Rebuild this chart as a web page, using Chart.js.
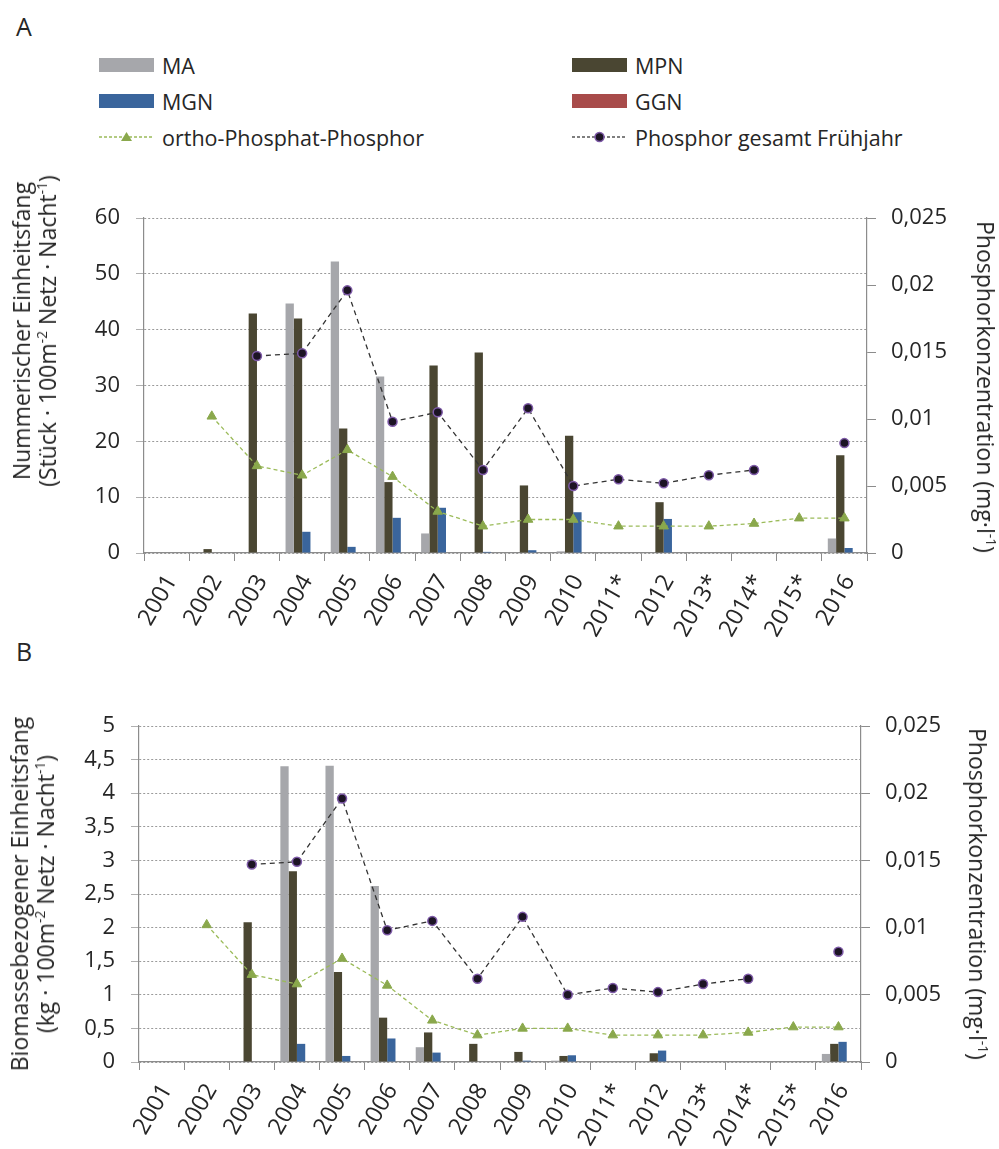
<!DOCTYPE html>
<html lang="de">
<head>
<meta charset="utf-8">
<title>Einheitsfang und Phosphorkonzentration</title>
<script src="https://cdn.jsdelivr.net/npm/chart.js@4.4.1/dist/chart.umd.min.js"></script>
<style>
  body { margin: 0; width: 999px; height: 1149px; position: relative; background: #fff;
         font-family: 'Open Sans', sans-serif; color: #262626; overflow: hidden; }
  .panel-letter { position: absolute; left: 16px; font-size: 25px; line-height: 25px; }
  .chart-box { position: absolute; left: 0; width: 999px; }
  .legend-item { position: absolute; display: flex; align-items: center; height: 30px; font-size: 21.5px; }
  .legend-item .swatch { width: 55px; height: 14px; margin-right: 8px; }
  .legend-item svg { margin-right: 8px; }
  .axis-title { position: absolute; white-space: nowrap; text-align: center; font-size: 23px; line-height: 26px; }
  .axis-title.left  { transform: translate(-50%, -50%) rotate(-90deg); }
  .axis-title.right { transform: translate(-50%, -50%) rotate(90deg); }
  .axis-title sup { font-size: 0.6em; line-height: 0; }
</style>
</head>
<body>

<div class="panel-letter" style="top:14px">A</div>
<div class="panel-letter" style="top:639px">B</div>

<div id="legend"></div>

<div class="chart-box" style="top:160px;height:480px"><canvas id="chartA" width="999" height="480"></canvas></div>
<div class="chart-box" style="top:670px;height:479px"><canvas id="chartB" width="999" height="479"></canvas></div>

<div class="axis-title left" style="left:34px;top:331px">Nummerischer Einheitsfang<br>(Stück · 100m<sup>-2</sup> Netz · Nacht<sup>-1</sup>)</div>
<div class="axis-title right" style="left:986px;top:387px">Phosphorkonzentration (mg·l<sup>-1</sup>)</div>
<div class="axis-title left" style="left:32px;top:894px">Biomassebezogener Einheitsfang<br>(kg · 100m<sup>-2</sup> Netz · Nacht<sup>-1</sup>)</div>
<div class="axis-title right" style="left:978px;top:894px">Phosphorkonzentration (mg·l<sup>-1</sup>)</div>

<script>
// ===== DATA =====
const years = ['2001', '2002', '2003', '2004', '2005', '2006', '2007', '2008',
               '2009', '2010', '2011*', '2012', '2013*', '2014*', '2015*', '2016'];

// A: Stück pro 100 m² Netz und Nacht
const countMA  = [0, 0, 0, 44.7, 52.2, 31.6, 3.5, 0, 0, 0.3, 0, 0, 0, 0, 0, 2.6];
const countMPN = [0, 0.7, 42.9, 42.0, 22.3, 12.7, 33.6, 35.9, 12.1, 21.0, 0, 9.1, 0, 0, 0, 17.5];
const countMGN = [0, 0, 0, 3.8, 1.1, 6.3, 8.1, 0.2, 0.5, 7.3, 0, 6.1, 0, 0, 0, 0.9];
const countGGN = [0, 0, 0, 0, 0, 0, 0, 0, 0, 0, 0, 0, 0, 0, 0, 0];

// B: kg pro 100 m² Netz und Nacht
const massMA  = [0, 0, 0, 4.40, 4.41, 2.62, 0.22, 0, 0, 0.02, 0, 0, 0, 0, 0, 0.12];
const massMPN = [0, 0, 2.08, 2.84, 1.34, 0.66, 0.44, 0.27, 0.15, 0.09, 0, 0.13, 0, 0, 0, 0.27];
const massMGN = [0, 0, 0, 0.27, 0.09, 0.35, 0.14, 0, 0.02, 0.10, 0, 0.17, 0, 0, 0, 0.30];
const massGGN = [0, 0, 0, 0, 0, 0, 0, 0, 0, 0, 0, 0, 0, 0, 0, 0];

// Phosphor (mg/l), rechte Achse
const orthoP  = [null, 0.0102, 0.0065, 0.0058, 0.0077, 0.0057, 0.0031, 0.0020,
                 0.0025, 0.0025, 0.0020, 0.0020, 0.0020, 0.0022, 0.0026, 0.0026];
const gesamtP = [null, null, 0.0147, 0.0149, 0.0196, 0.0098, 0.0105, 0.0062,
                 0.0108, 0.0050, 0.0055, 0.0052, 0.0058, 0.0062, null, 0.0082];

const COLORS = {
  MA: '#a6a7ab',
  MPN: '#4a4632',
  MGN: '#3a659c',
  GGN: '#a84b4a',
  ortho: '#9bbb59',
  orthoPoint: '#8aa84c',
  gesamt: '#333333',
  gesamtPoint: '#1c1424',
  gesamtRing: '#7e5aa8',
};

// ===== LEGEND =====
const legendItems = [
  { label: 'MA', color: COLORS.MA, x: 99, y: 65 },
  { label: 'MPN', color: COLORS.MPN, x: 572, y: 65 },
  { label: 'MGN', color: COLORS.MGN, x: 99, y: 101 },
  { label: 'GGN', color: COLORS.GGN, x: 572, y: 101 },
  { label: 'ortho-Phosphat-Phosphor', line: 'ortho', x: 99, y: 137 },
  { label: 'Phosphor gesamt Frühjahr', line: 'gesamt', x: 572, y: 137 },
];

function legendSymbol(item) {
  if (!item.line) return `<span class="swatch" style="background:${item.color}"></span>`;
  const marker = item.line === 'ortho'
    ? `<polygon points="27.5,3 33,12 22,12" fill="${COLORS.orthoPoint}"/>`
    : `<circle cx="27.5" cy="8" r="4.5" fill="${COLORS.gesamtPoint}" stroke="${COLORS.gesamtRing}" stroke-width="1.5"/>`;
  const stroke = item.line === 'ortho' ? COLORS.ortho : '#555';
  return `<svg width="55" height="16"><line x1="0" y1="8" x2="55" y2="8" stroke="${stroke}"
            stroke-width="1.3" stroke-dasharray="3,2"/>${marker}</svg>`;
}

document.getElementById('legend').innerHTML = legendItems.map(it =>
  `<div class="legend-item" style="left:${it.x}px;top:${it.y - 15}px">${legendSymbol(it)}${it.label}</div>`
).join('');

// ===== CHARTS =====
Chart.defaults.font.family = "'Open Sans', sans-serif";
Chart.defaults.color = '#262626';

const AXIS_GRAY = '#8c8c8c';
const commaFmt = v => String(Number(v.toFixed(4))).replace('.', ',');

function renderPanel(canvasId, bars, yMax, yStep, box) {
  const barSet = (label, data) => ({
    type: 'bar', label, data, yAxisID: 'y', order: 2,
    backgroundColor: COLORS[label], borderWidth: 0,
    categoryPercentage: 0.735, barPercentage: 1,
  });

  return new Chart(document.getElementById(canvasId), {
    data: {
      labels: years,
      datasets: [
        {
          type: 'line', label: 'Phosphor gesamt Frühjahr', data: gesamtP, yAxisID: 'y1', order: 0,
          borderColor: COLORS.gesamt, borderWidth: 1.3, borderDash: [5, 4], tension: 0,
          pointStyle: 'circle', pointRadius: 4.5, pointBorderWidth: 1.5,
          pointBackgroundColor: COLORS.gesamtPoint, pointBorderColor: COLORS.gesamtRing,
          spanGaps: false,
        },
        {
          type: 'line', label: 'ortho-Phosphat-Phosphor', data: orthoP, yAxisID: 'y1', order: 1,
          borderColor: COLORS.ortho, borderWidth: 1.3, borderDash: [4, 3], tension: 0,
          pointStyle: 'triangle', pointRadius: 5.5, pointBorderWidth: 1,
          pointBackgroundColor: COLORS.orthoPoint, pointBorderColor: COLORS.orthoPoint,
        },
        barSet('MA', bars[0]),
        barSet('MPN', bars[1]),
        barSet('MGN', bars[2]),
        barSet('GGN', bars[3]),
      ]
    },
    options: {
      responsive: false,
      animation: false,
      layout: { padding: { top: box.top, left: 0, right: 0, bottom: 0 } },
      plugins: { legend: { display: false }, tooltip: { enabled: false } },
      scales: {
        x: {
          offset: true,
          grid: { offset: true, drawOnChartArea: false, tickLength: 8, color: AXIS_GRAY },
          border: { color: AXIS_GRAY, width: 1.2 },
          ticks: { font: { size: 23.5 }, minRotation: 60, maxRotation: 60, autoSkip: false,
                   padding: 9, labelOffset: 5 },
          afterFit: s => { s.height = 87; },
        },
        y: {
          position: 'left', min: 0, max: yMax,
          ticks: { stepSize: yStep, font: { size: 22 }, padding: 16, callback: commaFmt },
          grid: { color: '#9a9a9a', lineWidth: 1, tickLength: 8, tickColor: '#b0b0b0' },
          border: { color: AXIS_GRAY, width: 1.2, dash: [2, 2] },
          afterFit: s => { s.width = box.left; },
        },
        y1: {
          position: 'right', min: 0, max: 0.025,
          ticks: { stepSize: 0.005, font: { size: 22 }, padding: 15, callback: commaFmt },
          grid: { drawOnChartArea: false, tickLength: 9, color: AXIS_GRAY },
          border: { color: AXIS_GRAY, width: 1.2 },
          afterFit: s => { s.width = box.right; },
        }
      }
    }
  });
}

renderPanel('chartA', [countMA, countMPN, countMGN, countGGN], 60, 10, { top: 58, left: 144, right: 132 });
renderPanel('chartB', [massMA, massMPN, massMGN, massGGN], 5, 0.5, { top: 56, left: 139, right: 138 });
</script>
</body>
</html>
